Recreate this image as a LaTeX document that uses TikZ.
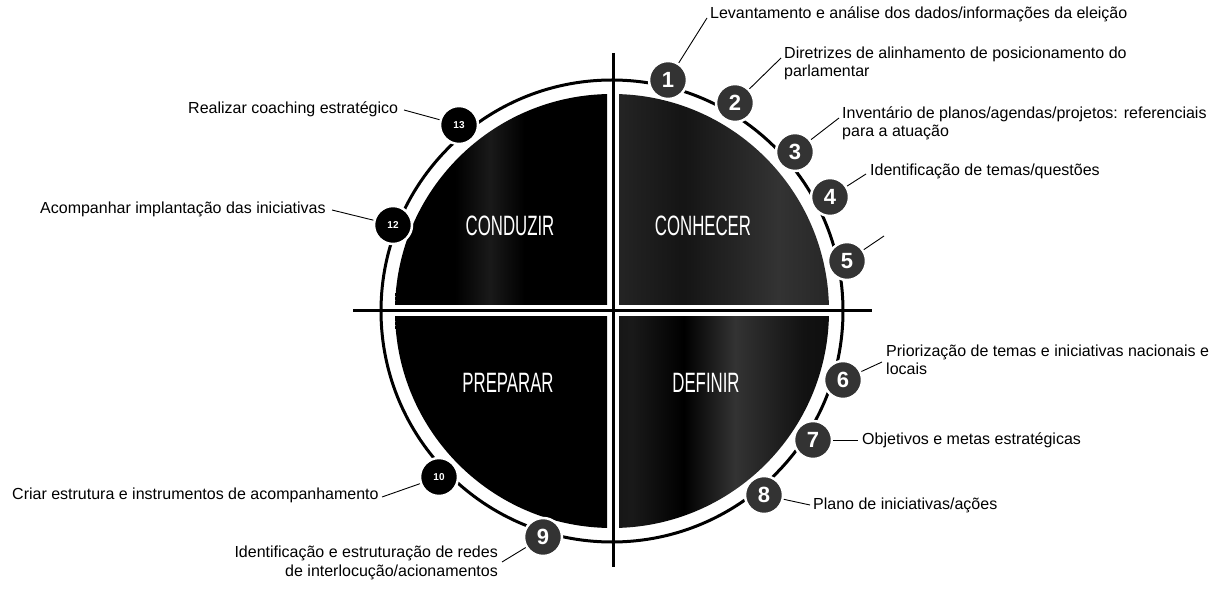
\documentclass[tikz,border=0pt]{standalone}
\usepackage{fontspec}
\setmainfont{Liberation Sans}
\pgfdeclarehorizontalshading{shUL}{100bp}{color(0bp)=(black); color(40bp)=(black); color(48bp)=(black!90); color(56bp)=(black); color(78bp)=(black); color(92bp)=(black!80); color(100bp)=(black!88)}
\pgfdeclarehorizontalshading{shUR}{100bp}{color(0bp)=(black!95); color(20bp)=(black!84); color(40bp)=(black!92); color(62bp)=(black!80); color(82bp)=(black!88); color(100bp)=(black)}
\pgfdeclarehorizontalshading{shLR}{100bp}{color(0bp)=(black); color(28bp)=(black!90); color(40bp)=(black); color(52bp)=(black!80); color(68bp)=(black!93); color(100bp)=(black)}
\pgfdeclarehorizontalshading{shLL}{100bp}{color(0bp)=(black); color(85bp)=(black); color(100bp)=(black!88)}
\begin{document}
\begin{tikzpicture}[x=1pt,y=-1pt,
  lbl/.style={font=\fontsize{16}{18}\selectfont, inner sep=0pt, text height=12pt, text depth=4pt, anchor=west},
  lblr/.style={lbl, anchor=east},
  lead/.style={line width=0.9pt},
  numA/.style={circle, minimum size=38pt, inner sep=0pt, fill=black!80, draw=white, line width=2.5pt, text=white, font=\fontsize{22}{22}\selectfont\bfseries},
  numB/.style={numA, fill=black, font=\fontsize{10}{10}\selectfont\bfseries},
  quadlbl/.style={text=white, inner sep=0pt, font=\fontsize{28}{30}\selectfont}]

\useasboundingbox (0,0) rectangle (1232,593);
\fill[white] (0,0) rectangle (1232,593);

% quadrants
\begin{scope}
  \clip (612,311) circle[radius=217pt];
  \shade[shading=shUL] (390,90) rectangle (607,305);
  \shade[shading=shUR] (619,90) rectangle (834,305);
  \shade[shading=shLR] (619,317) rectangle (834,532);
  \shade[shading=shLL] (390,317) rectangle (607,532);
\end{scope}

% ring and cross
\draw[line width=3pt] (612,311) circle[radius=231pt];
\coordinate (vt) at (613,53);
\coordinate (vb) at (613,567);
\coordinate (hl) at (353,311);
\coordinate (hr) at (872,311);
\draw[line width=3pt] (vt) -- (vb);
\draw[line width=3pt] (hl) -- (hr);

% quadrant titles
\node[quadlbl] (qc) at (510,226) {\scalebox{0.6}[1]{CONDUZIR}};
\node[quadlbl] (qk) at (703,226) {\scalebox{0.6}[1]{CONHECER}};
\node[quadlbl] (qp) at (508,383) {\scalebox{0.6}[1]{PREPARAR}};
\node[quadlbl] (qd) at (706,383) {\scalebox{0.6}[1]{DEFINIR}};

% number circles
\node[numA] (n1) at (668,80) {1};
\node[numA] (n2) at (735,103) {2};
\node[numA] (n3) at (795,152) {3};
\node[numA] (n4) at (830,197) {4};
\node[numA] (n5) at (847,261) {5};
\node[numA] (n6) at (843,380) {6};
\node[numA] (n7) at (813,440) {7};
\node[numA] (n8) at (764,495) {8};
\node[numA] (n9) at (543,537) {9};
\node[numB] (n10) at (439,477) {10};
\node[numB] (n12) at (393,225) {12};
\node[numB] (n13) at (459,125) {13};

% leader ends
\coordinate (c1) at (707,18);
\coordinate (c2) at (781,58);
\coordinate (c3) at (839,118);
\coordinate (c4) at (866,174);
\coordinate (c5) at (884,236);
\coordinate (c6) at (882,362);
\coordinate (c7) at (858,440);
\coordinate (c8) at (810,505);
\coordinate (c9) at (502,562);
\coordinate (c10) at (382,497);
\coordinate (c12) at (332,210);
\coordinate (c13) at (404,110);

\foreach \i in {1,2,3,4,5,6,7,8,9,10,12,13}{\draw[lead] (n\i) -- (c\i);}

% labels
\node[lbl] (t1) at (710,15) {Levantamento e análise dos dados/informações da eleição};
\node[lbl] (t2a) at (784,55) {Diretrizes de alinhamento de posicionamento do};
\node[lbl] (t2b) at (784,73) {parlamentar};
\node[lbl] (t3a) at (842,115) {Inventário de planos/agendas/projetos: referenciais};
\node[lbl] (t3b) at (842,133) {para a atuação};
\node[lbl] (t4) at (870,172) {Identificação de temas/questões};
\node[lbl] (t6a) at (886,353) {Priorização de temas e iniciativas nacionais e};
\node[lbl] (t6b) at (886,371) {locais};
\node[lbl] (t7) at (862,441) {Objetivos e metas estratégicas};
\node[lbl] (t8) at (813,505) {Plano de iniciativas/ações};
\node[lblr] (t9a) at (498,553) {Identificação e estruturação de redes};
\node[lblr] (t9b) at (498,572) {de interlocução/acionamentos};
\node[lbl] (t10) at (12,496) {Criar estrutura e instrumentos de acompanhamento};
\node[lbl] (t12) at (40,210) {Acompanhar implantação das iniciativas};
\node[lbl] (t13) at (188,110) {Realizar coaching estratégico};
\end{tikzpicture}
\end{document}
